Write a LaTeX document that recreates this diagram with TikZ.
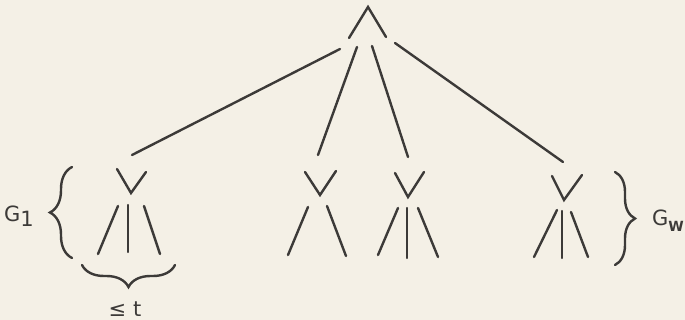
\documentclass[tikz,border=0pt]{standalone}
\usepackage{fontspec}
\setmainfont{DejaVu Sans}
\usepackage{xcolor}
\usetikzlibrary{decorations.pathreplacing}
\definecolor{paper}{HTML}{F4F0E6}
\definecolor{ink}{HTML}{3C3A38}

\begin{document}
\begin{tikzpicture}[
    x=0.5pt, y=-0.5pt,
    edge/.style={draw=ink, line width=1.2pt, line cap=round},
    brc/.style={draw=ink, line width=1.2pt, line cap=round,
                decorate, decoration={brace, amplitude=#1}},
    glab/.style={font=\fontsize{10.5}{12}\selectfont, text=ink, inner sep=0pt}
  ]
  \fill[paper] (0,0) rectangle (685,320);
  \useasboundingbox (0,0) rectangle (685,320);

  % root
  \coordinate (root) at (368,7);
  \draw[edge] (root) ++(-19,31) -- (root) -- ++(18,30);

  % edges from the root
  \coordinate (r1) at (340,49);
  \coordinate (r2) at (357,47);
  \coordinate (r3) at (372,46);
  \coordinate (r4) at (395,43);
  \coordinate (t1) at (132,155);
  \coordinate (t2) at (318,155);
  \coordinate (t3) at (408,157);
  \coordinate (t4) at (563,162);
  \draw[edge] (r1) -- (t1);
  \draw[edge] (r2) -- (t2);
  \draw[edge] (r3) -- (t3);
  \draw[edge] (r4) -- (t4);

  % subtree 1
  \coordinate (v1) at (131,193);
  \draw[edge] (v1) ++(-14,-24) -- (v1) -- ++(15,-21);
  \draw[edge] (v1) ++(-13,13) -- ++(-20,48);
  \draw[edge] (v1) ++(-3,12) -- ++(0,47);
  \draw[edge] (v1) ++(13,13) -- ++(16,48);

  % subtree 2
  \coordinate (v2) at (320,195);
  \draw[edge] (v2) ++(-15,-23) -- (v2) -- ++(16,-24);
  \draw[edge] (v2) ++(-12,12) -- ++(-20,48);
  \draw[edge] (v2) ++(7,11) -- ++(19,50);

  % subtree 3
  \coordinate (v3) at (408,197);
  \draw[edge] (v3) ++(-13,-24) -- (v3) -- ++(16,-25);
  \draw[edge] (v3) ++(-10,11) -- ++(-20,47);
  \draw[edge] (v3) ++(-1,11) -- ++(0,50);
  \draw[edge] (v3) ++(10,11) -- ++(20,49);

  % subtree 4
  \coordinate (v4) at (564,200);
  \draw[edge] (v4) ++(-12,-24) -- (v4) -- ++(18,-25);
  \draw[edge] (v4) ++(-7,10) -- ++(-23,47);
  \draw[edge] (v4) ++(-2,11) -- ++(0,47);
  \draw[edge] (v4) ++(7,12) -- ++(17,45);

  % braces and labels
  \draw[brc=11pt] (72,258) -- (72,167);
  \draw[brc=11pt] (175,265) -- (82,265);
  \draw[brc=10pt] (615,172) -- (615,265);
  \node[glab] (g1) at (19,216) {G\raisebox{-0.45ex}{1}};
  \node[glab] (bound) at (125,309) {≤ t};
  \node[glab] (gw) at (668,221) {G\raisebox{-0.5ex}{\scriptsize\bfseries W}};
\end{tikzpicture}
\end{document}
